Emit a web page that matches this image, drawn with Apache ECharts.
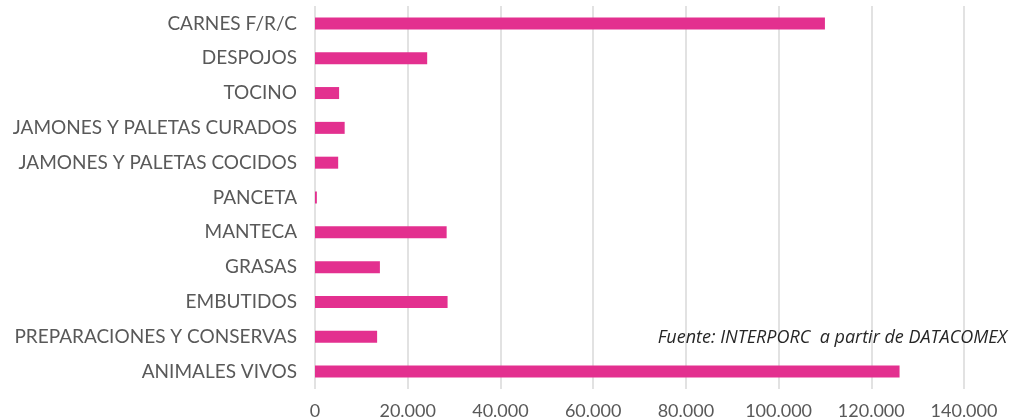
<!DOCTYPE html>
<html>
<head>
<meta charset="utf-8">
<script src="https://cdn.jsdelivr.net/npm/echarts@6/dist/echarts.min.js"></script>
<style>
  html, body { margin: 0; padding: 0; background: #fff; }
  #chart { width: 1013px; height: 420px; }
</style>
</head>
<body>
<div id="chart"></div>
<script>
// categories, bottom to top (as the value axis draws them)
var categories = [
    "ANIMALES VIVOS",
    "PREPARACIONES Y CONSERVAS",
    "EMBUTIDOS",
    "GRASAS",
    "MANTECA",
    "PANCETA",
    "JAMONES Y PALETAS COCIDOS",
    "JAMONES Y PALETAS CURADOS",
    "TOCINO",
    "DESPOJOS",
    "CARNES F/R/C"
];
var values = [126100, 13400, 28600, 14000, 28400, 400, 5000, 6400, 5200, 24200, 110000];
var axisMax = 140000;
var axisStep = 20000;
var source = "Fuente: INTERPORC  a partir de DATACOMEX";

var fontFam = "Lato, 'Noto Sans', sans-serif";

function fmt(v) {
    return String(v).replace(/\B(?=(\d{3})+(?!\d))/g, ".");
}

var chart = echarts.init(document.getElementById("chart"));
chart.setOption({
    animation: false,
    title: {
        text: source,
        right: 1,
        top: 324,
        textStyle: { fontFamily: "'Open Sans', sans-serif", fontStyle: "italic", fontWeight: "normal", fontSize: 18, color: "#262626" }
    },
    grid: { left: 315, right: 49, top: 6, bottom: 31 },
    xAxis: {
        type: "value",
        min: 0,
        max: axisMax,
        interval: axisStep,
        axisLine: { show: false },
        axisTick: { show: false },
        splitLine: { lineStyle: { color: "#d9d9d9", width: 1.5 } },
        axisLabel: {
            margin: 13,
            color: "#595959",
            fontSize: 18,
            fontFamily: fontFam,
            formatter: fmt
        }
    },
    yAxis: {
        type: "category",
        data: categories,
        axisLine: { show: false },
        axisTick: { show: false },
        axisLabel: { margin: 18, color: "#595959", fontSize: 19, fontFamily: fontFam }
    },
    series: [{
        type: "bar",
        data: values,
        barWidth: 12,
        itemStyle: { color: "#E3308F" }
    }]
});
</script>
</body>
</html>
